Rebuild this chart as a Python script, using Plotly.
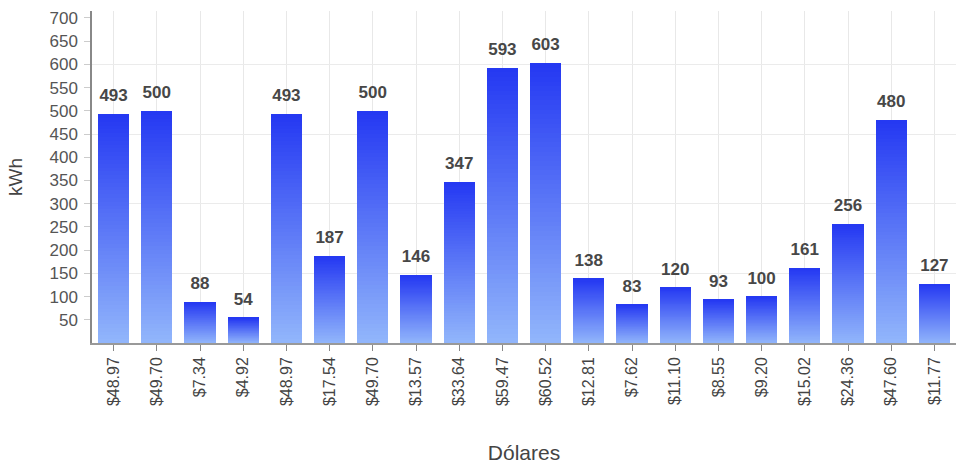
import plotly.graph_objects as go

categories = ["$48.97", "$49.70", "$7.34", "$4.92", "$48.97", "$17.54", "$49.70", "$13.57",
              "$33.64", "$59.47", "$60.52", "$12.81", "$7.62", "$11.10", "$8.55", "$9.20",
              "$15.02", "$24.36", "$47.60", "$11.77"]
kwh = [493, 500, 88, 54, 493, 187, 500, 146, 347, 593, 603, 138, 83, 120, 93, 100, 161, 256, 480, 127]

x_idx = list(range(len(categories)))

top_rgb = (36, 56, 242)
bottom_rgb = (146, 182, 251)
n_seg = 60

fig = go.Figure()
for k in range(n_seg):
    t = (k + 0.5) / n_seg
    c = tuple(round(bottom_rgb[i] + (top_rgb[i] - bottom_rgb[i]) * t) for i in range(3))
    fig.add_trace(go.Bar(
        x=x_idx, y=[v / n_seg for v in kwh],
        marker=dict(color="rgb(%d,%d,%d)" % c, line=dict(width=0)),
        showlegend=False, hoverinfo="skip",
    ))

fig.add_trace(go.Scatter(
    x=x_idx, y=kwh, mode="markers+text", text=[str(v) for v in kwh],
    textposition="top center",
    marker=dict(size=12, opacity=0),
    textfont=dict(family="Arial, Liberation Sans, sans-serif", size=17, color="#474747", weight="bold"),
    showlegend=False, hoverinfo="skip", yaxis="y2",
))

font = "Arial, Liberation Sans, sans-serif"
yr = [0, 715]
fig.update_layout(
    width=956, height=465,
    margin=dict(l=92, r=0, t=11, b=122),
    barmode="stack", bargap=0.28,
    plot_bgcolor="white", paper_bgcolor="white",
    font=dict(family=font, color="#444"),
    xaxis=dict(
        tickmode="array", tickvals=x_idx, ticktext=categories,
        range=[-0.5, len(categories) - 0.5],
        tickangle=-90, tickson="boundaries", ticks="outside", ticklen=6, tickcolor="#888",
        tickfont=dict(size=16, color="#444"),
        showgrid=True, gridcolor="#e8e8e8", gridwidth=1,
        showline=True, linecolor="#999", linewidth=1.5,
        title=dict(text="Dólares", font=dict(size=21, color="#444"), standoff=40),
        zeroline=False,
    ),
    yaxis=dict(
        range=yr, tickmode="array", tickvals=list(range(50, 701, 50)),
        ticks="outside", ticklen=6, tickcolor="#ccc", ticklabelstandoff=3,
        tickfont=dict(size=17, color="#555"),
        showgrid=False, showline=True, linecolor="#888", linewidth=1.5,
        zeroline=False,
        title=dict(text="kWh", font=dict(size=19, color="#444"), standoff=22),
    ),
    yaxis2=dict(
        range=yr, overlaying="y", side="left", tickmode="linear", tick0=0, dtick=150,
        showticklabels=False, ticks="", showgrid=True, gridcolor="#ebebeb", gridwidth=1,
        showline=False, zeroline=False,
    ),
    hovermode=False,
)

fig.write_html("out.html")
